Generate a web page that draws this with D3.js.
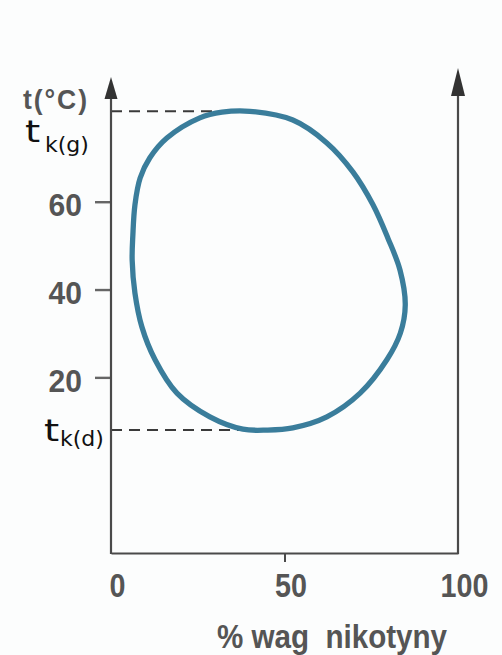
<!DOCTYPE html>
<html>
<head>
<meta charset="utf-8">
<script src="https://cdn.jsdelivr.net/npm/d3@7"></script>
<style>
  html, body { margin: 0; padding: 0; background: #fcfdfd; }
  svg { display: block; }
</style>
</head>
<body>
<svg id="chart" width="502" height="655"></svg>
<script>
// Closed solubility loop of the nicotine–water system (composition in wt % nicotine, temperature in °C)
const composition = [40, 52.4, 62.2, 69.7, 75.5, 79.8, 83.3, 84.8, 83.4, 79.5, 71.8, 62.2, 52.4, 45, 38.0, 28.5, 19.0, 12.7, 8.9, 6.9, 6.1, 6.3, 6.9, 8.4, 11.2, 16.1, 25.6, 32.0];
const temperature = [80.6, 78.6, 73.4, 66.8, 59.3, 51.7, 44.4, 36.5, 30.1, 24.0, 16.4, 11.0, 8.5, 8.0, 8.2, 11.0, 16.4, 24.0, 31.5, 39.2, 46.7, 52.4, 59.3, 65.4, 70.0, 74.5, 79.1, 80.4];

// Upper and lower critical solution temperatures
const criticalTemps = [80.6, 8.0];
const criticalComps = [40, 45];
const criticalNames = ["k(g)", "k(d)"];

const xTicks = [0, 50, 100];
const yTicks = [20, 40, 60];
const xTitle = "% wag  nikotyny";
const yTitle = "t(°C)";

const svg = d3.select("#chart");
const x = d3.scaleLinear().domain([0, 100]).range([111, 458]);
const y = d3.scaleLinear().domain([-20, 90]).range([553, 70]);

const axisColor = "#4a4a4a";
const labelColor = "#555";
const labelFont = "'Liberation Sans', Arial, sans-serif";
const squeeze = 0.87;

// Dashed guides for the critical temperatures
svg.append("g").selectAll("line")
  .data(criticalTemps)
  .join("line")
  .attr("x1", x(0)).attr("x2", (d, i) => x(criticalComps[i]))
  .attr("y1", d => y(d)).attr("y2", d => y(d))
  .attr("stroke", "#3a3a3a").attr("stroke-width", 2)
  .attr("stroke-dasharray", "11,7");

// Bottom axis with the 50 % tick
const gx = svg.append("g")
  .attr("transform", `translate(0,${y(-20)})`)
  .call(d3.axisBottom(x).tickValues(xTicks).tickSize(9).tickSizeOuter(0).tickFormat(d3.format("d")));
gx.select(".domain").attr("stroke", axisColor).attr("stroke-width", 2.2);
gx.selectAll(".tick line")
  .attr("stroke", axisColor).attr("stroke-width", 2)
  .attr("display", d => (d === 0 || d === 100) ? "none" : null);
gx.selectAll(".tick text")
  .attr("y", 0).attr("dy", 0)
  .attr("transform", `translate(6,44) scale(${squeeze},1)`)
  .attr("fill", labelColor)
  .style("font", `bold 33px ${labelFont}`);

// Left temperature axis
const gy = svg.append("g")
  .attr("transform", `translate(${x(0)},0)`)
  .call(d3.axisLeft(y).tickValues(yTicks).tickSize(16).tickSizeOuter(0).tickFormat(d3.format("d")));
gy.select(".domain").remove();
gy.selectAll(".tick line").attr("stroke", "#666").attr("stroke-width", 2.4);
gy.selectAll(".tick text")
  .attr("x", 0).attr("dy", 0)
  .attr("transform", `translate(-29,14) scale(0.97,1)`)
  .attr("fill", labelColor)
  .style("font", `bold 31px ${labelFont}`);

// Vertical axes with arrowheads at both composition ends
function arrowAxis(px, tipY, baseY, halfW) {
  svg.append("line")
    .attr("x1", px).attr("x2", px)
    .attr("y1", y(-20) + 1).attr("y2", baseY)
    .attr("stroke", axisColor).attr("stroke-width", 2.2);
  svg.append("path")
    .attr("d", `M${px},${tipY}L${px + halfW},${baseY}L${px - halfW},${baseY}Z`)
    .attr("fill", "#333");
}
arrowAxis(x(0), 77, 99, 6.5);
arrowAxis(x(100), 68, 96, 7);

// Temperature axis title
svg.append("text")
  .attr("transform", `translate(23,109) scale(0.95,1)`)
  .attr("fill", labelColor)
  .attr("letter-spacing", 2)
  .style("font", `bold 28px ${labelFont}`)
  .text(yTitle);

// Composition axis title
svg.append("text")
  .attr("transform", `translate(217,648) scale(${squeeze},1)`)
  .attr("fill", labelColor)
  .style("white-space", "pre")
  .style("font", `bold 34px ${labelFont}`)
  .text(xTitle);

// Critical temperature labels t_k(g), t_k(d)
const critLabelPos = [{ x: 25, base: 142, sub: 10, subX: 45 }, { x: 44, base: 441, sub: 5, subX: 60 }];
criticalNames.forEach((name, i) => {
  const p = critLabelPos[i];
  svg.append("text")
    .attr("transform", `translate(${p.x},${p.base}) scale(1.25,1)`)
    .attr("fill", "#111")
    .style("font", "31px 'DejaVu Sans', sans-serif")
    .text("t");
  svg.append("text")
    .attr("x", p.subX).attr("y", p.base + p.sub)
    .attr("fill", "#111")
    .style("font", "22px 'DejaVu Sans', sans-serif")
    .text(name);
});

// Solubility loop
const loop = d3.line()
  .x(d => x(d[0]))
  .y(d => y(d[1]))
  .curve(d3.curveCatmullRomClosed.alpha(0.5));
svg.append("path")
  .datum(composition.map((c, i) => [c, temperature[i]]))
  .attr("d", loop)
  .attr("fill", "none")
  .attr("stroke", "#3a7d9b")
  .attr("stroke-width", 5.3);
</script>
</body>
</html>
